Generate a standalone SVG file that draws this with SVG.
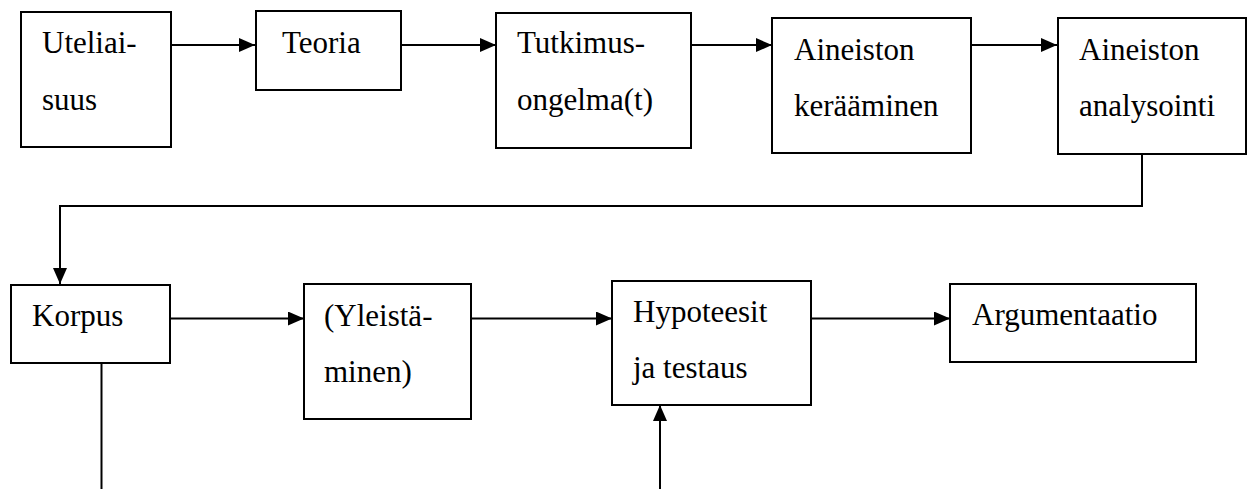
<svg xmlns="http://www.w3.org/2000/svg" width="1253" height="489" viewBox="0 0 1253 489">
<defs>
<marker id="arr" markerUnits="userSpaceOnUse" markerWidth="16" markerHeight="14" refX="16" refY="7" orient="auto">
<path d="M0,0 L16,7 L0,14 Z" fill="#000"/>
</marker>
<style>
.box{fill:#fff;stroke:#000;stroke-width:2}
.c{fill:none;stroke:#000;stroke-width:2}
</style>
</defs>
<rect width="1253" height="489" fill="#fff"/>
<g id="connectors">
<line class="c" x1="168" y1="45" x2="255" y2="45" marker-end="url(#arr)"/>
<line class="c" x1="400" y1="45" x2="496" y2="45" marker-end="url(#arr)"/>
<line class="c" x1="688" y1="45" x2="772" y2="45" marker-end="url(#arr)"/>
<line class="c" x1="967" y1="45" x2="1057" y2="45" marker-end="url(#arr)"/>
<polyline class="c" points="1142,154 1142,206 60,206 60,284" marker-end="url(#arr)"/>
<line class="c" x1="167" y1="318.5" x2="304" y2="318.5" marker-end="url(#arr)"/>
<line class="c" x1="468" y1="318.5" x2="612" y2="318.5" marker-end="url(#arr)"/>
<line class="c" x1="811" y1="318.5" x2="950" y2="318.5" marker-end="url(#arr)"/>
<line class="c" x1="101.5" y1="360" x2="101.5" y2="489"/>
<line class="c" x1="660" y1="489" x2="660" y2="405" marker-end="url(#arr)"/>
</g>
<g font-family="Liberation Serif, DejaVu Serif, serif" font-size="31" fill="#000">
<g id="n-uteliaisuus">
<rect class="box" x="21" y="12" width="150" height="135"/>
<text x="42" y="53">Uteliai-</text>
<text x="42" y="110">suus</text>
</g>
<g id="n-teoria">
<rect class="box" x="256" y="11" width="145" height="79"/>
<text x="282" y="53">Teoria</text>
</g>
<g id="n-tutkimusongelma">
<rect class="box" x="496" y="13" width="195" height="135"/>
<text x="517" y="53">Tutkimus-</text>
<text x="517" y="110">ongelma(t)</text>
</g>
<g id="n-keraaminen">
<rect class="box" x="772" y="18" width="199" height="135"/>
<text x="794" y="60">Aineiston</text>
<text x="794" y="116">kerääminen</text>
</g>
<g id="n-analysointi">
<rect class="box" x="1058" y="18" width="188" height="136"/>
<text x="1079" y="60">Aineiston</text>
<text x="1079" y="116">analysointi</text>
</g>
<g id="n-korpus">
<rect class="box" x="11" y="285" width="159" height="78"/>
<text x="32" y="326">Korpus</text>
</g>
<g id="n-yleistaminen">
<rect class="box" x="304" y="284" width="167" height="135"/>
<text x="324" y="326">(Yleistä-</text>
<text x="324" y="382">minen)</text>
</g>
<g id="n-hypoteesit">
<rect class="box" x="612" y="281" width="199" height="124"/>
<text x="633" y="322">Hypoteesit</text>
<text x="633" y="378">ja testaus</text>
</g>
<g id="n-argumentaatio">
<rect class="box" x="950" y="284" width="246" height="78"/>
<text x="972" y="325">Argumentaatio</text>
</g>
</g>
</svg>
